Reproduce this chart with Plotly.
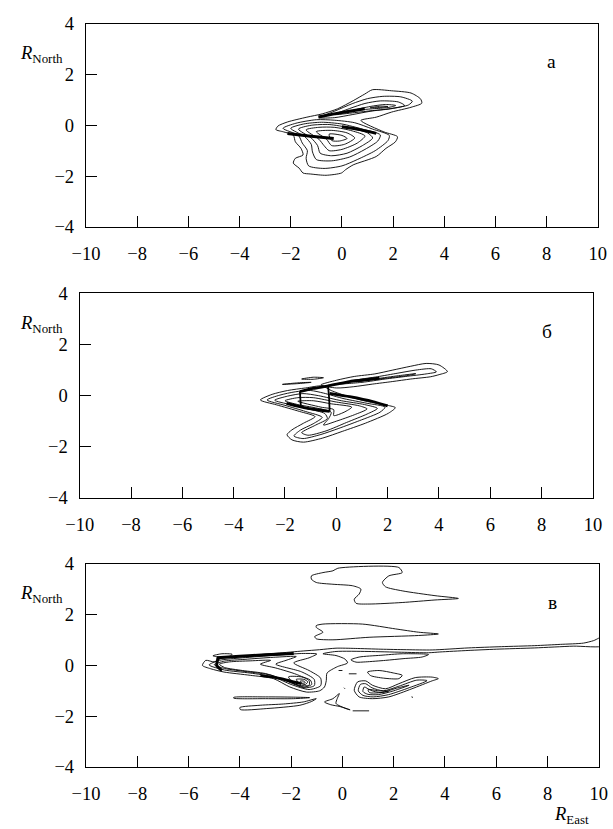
import plotly.graph_objects as go

# ---------------- panel а : contour lines (R_East, R_North) ----------------
A_OUTER = [(1.19, 1.40), (1.94, 1.36), (2.70, 1.27), (3.07, 1.04), (3.12, 0.87), (2.70, 0.71),
           (1.94, 0.52), (1.34, 0.32), (0.74, 0.19), (1.64, -0.26), (2.17, -0.45), (2.09, -0.65),
           (1.72, -0.91), (1.34, -1.23), (0.44, -1.56), (0.14, -1.75), (-0.02, -1.88), (-0.62, -1.97),
           (-1.22, -1.92), (-1.52, -1.88), (-1.67, -1.69), (-1.90, -1.49), (-1.82, -1.30), (-1.52, -1.17),
           (-1.60, -0.91), (-1.82, -0.65), (-1.90, -0.39), (-2.28, -0.26), (-2.58, -0.17), (-2.50, -0.03),
           (-2.13, 0.13), (-1.37, 0.32), (-0.77, 0.45), (-0.17, 0.65), (0.44, 0.97), (0.89, 1.23), (1.19, 1.40)]
A_UP1 = [(-0.9, 0.30), (-0.3, 0.55), (0.4, 0.85), (1.0, 1.05), (1.6, 1.14), (2.3, 1.12), (2.75, 0.95),
         (2.6, 0.80), (1.9, 0.66), (1.1, 0.55), (0.4, 0.42), (-0.3, 0.30), (-0.9, 0.30)]
A_UP2 = [(-0.3, 0.42), (0.3, 0.66), (0.9, 0.86), (1.5, 0.96), (2.2, 0.92), (2.45, 0.78), (1.85, 0.64),
         (1.2, 0.58), (0.5, 0.50), (-0.3, 0.42)]
A_UP3 = [(0.5, 0.60), (1.1, 0.74), (1.7, 0.82), (2.1, 0.78), (1.8, 0.70), (1.2, 0.65), (0.5, 0.60)]
A_UP4 = [(1.1, 0.69), (1.5, 0.75), (1.8, 0.74), (1.5, 0.70), (1.1, 0.69)]
A_LOW1 = [(-2.3, -0.12), (-1.8, 0.08), (-1.0, 0.22), (-0.3, 0.2), (0.5, 0.1), (1.2, -0.15), (1.85, -0.4),
          (1.8, -0.6), (1.3, -1.0), (0.6, -1.35), (0.0, -1.6), (-0.7, -1.7), (-1.3, -1.6), (-1.4, -1.3),
          (-1.35, -1.0), (-1.55, -0.7), (-1.7, -0.4), (-2.3, -0.12)]
A_LOW2 = [(-2.0, -0.12), (-1.5, 0.05), (-0.8, 0.12), (0.0, 0.05), (0.8, -0.15), (1.5, -0.38), (1.4, -0.62),
          (0.9, -0.95), (0.3, -1.25), (-0.4, -1.4), (-1.0, -1.35), (-1.15, -1.05), (-1.2, -0.75),
          (-1.45, -0.45), (-2.0, -0.12)]
A_LOW3 = [(-1.7, -0.15), (-1.2, 0.0), (-0.5, 0.03), (0.3, -0.1), (1.0, -0.3), (1.2, -0.5), (0.8, -0.8),
          (0.2, -1.1), (-0.4, -1.2), (-0.85, -1.1), (-0.95, -0.8), (-1.2, -0.5), (-1.7, -0.15)]
A_LOW4 = [(-1.4, -0.18), (-0.9, -0.08), (-0.3, -0.08), (0.4, -0.22), (0.9, -0.42), (0.6, -0.7),
          (0.0, -0.95), (-0.5, -1.0), (-0.7, -0.8), (-0.9, -0.55), (-1.4, -0.18)]
A_LOW5 = [(-1.0, -0.25), (-0.4, -0.2), (0.2, -0.3), (0.5, -0.5), (0.1, -0.75), (-0.4, -0.8),
          (-0.6, -0.55), (-1.0, -0.25)]
A_LOW6 = [(-0.5, -0.35), (0.0, -0.4), (0.2, -0.52), (-0.1, -0.62), (-0.4, -0.6), (-0.5, -0.35)]
# steep-gradient bands where the isolines merge
A_BAND1 = [(-0.92, 0.33), (-0.3, 0.45), (0.3, 0.55), (0.89, 0.65)]
A_BAND2 = [(-2.13, -0.32), (-1.3, -0.42), (-0.32, -0.52)]
A_BAND3 = [(0.0, -0.06), (0.7, -0.17), (1.34, -0.32)]

# ---------------- panel б ----------------
B_OUTER = [(-2.96, -0.17), (-2.5, 0.05), (-1.9, 0.2), (-1.2, 0.3), (-0.55, 0.38), (-0.2, 0.2), (0.5, -0.05),
           (1.3, -0.25), (2.0, -0.38), (2.30, -0.47), (2.03, -0.69), (1.13, -1.08), (0.23, -1.40),
           (-0.53, -1.66), (-1.28, -1.82), (-1.73, -1.73), (-1.92, -1.53), (-1.73, -1.34), (-1.28, -1.08),
           (-0.83, -0.82), (-1.43, -0.62), (-2.33, -0.36), (-2.96, -0.17)]
B_LOW1 = [(-2.7, -0.17), (-2.2, 0.02), (-1.6, 0.15), (-1.0, 0.2), (-0.5, 0.1), (0.3, -0.12), (1.2, -0.3),
          (1.9, -0.45), (1.7, -0.65), (0.9, -0.98), (0.1, -1.28), (-0.6, -1.52), (-1.3, -1.68),
          (-1.65, -1.58), (-1.4, -1.35), (-0.9, -1.1), (-0.55, -0.85), (-1.2, -0.62), (-2.0, -0.38),
          (-2.7, -0.17)]
B_LOW2 = [(-2.4, -0.18), (-1.9, -0.02), (-1.3, 0.08), (-0.7, 0.0), (0.2, -0.2), (1.1, -0.35), (1.6, -0.5),
          (1.2, -0.72), (0.4, -1.05), (-0.4, -1.38), (-1.1, -1.55), (-1.35, -1.45), (-0.8, -1.15),
          (-0.35, -0.9), (-0.45, -0.7), (-1.1, -0.52), (-1.8, -0.35), (-2.4, -0.18)]
B_LOW3 = [(-2.0, -0.2), (-1.5, -0.08), (-0.9, -0.08), (0.0, -0.25), (0.9, -0.4), (1.2, -0.52), (0.7, -0.75),
          (0.0, -1.0), (-0.5, -1.15), (-0.3, -0.9), (-0.2, -0.65), (-0.8, -0.48), (-1.5, -0.35), (-2.0, -0.2)]
B_LOW4 = [(-1.5, -0.22), (-0.9, -0.2), (-0.2, -0.32), (0.6, -0.45), (0.3, -0.65), (-0.1, -0.78),
          (-0.1, -0.55), (-0.6, -0.45), (-1.5, -0.22)]
B_UP0 = [(-0.6, 0.42), (0.0, 0.6), (0.7, 0.75), (1.5, 0.85), (2.2, 1.0), (2.9, 1.15), (3.5, 1.26),
         (4.0, 1.2), (4.33, 0.94), (4.0, 0.82), (3.68, 0.74), (2.9, 0.65), (2.18, 0.55), (1.4, 0.45),
         (0.68, 0.35), (0.0, 0.3), (-0.6, 0.42)]
B_UP1 = [(0.0, 0.45), (0.8, 0.62), (1.6, 0.74), (2.4, 0.88), (3.1, 1.0), (3.7, 1.05), (3.9, 0.93),
         (3.5, 0.85), (2.7, 0.75), (1.9, 0.65), (1.0, 0.52), (0.0, 0.45)]
B_UP2 = [(0.8, 0.55), (1.7, 0.68), (2.5, 0.79), (3.1, 0.86), (2.8, 0.79), (2.0, 0.69), (1.2, 0.6), (0.8, 0.55)]
B_SMALL1 = [(-2.1, 0.44), (-1.5, 0.5), (-0.98, 0.52), (-1.5, 0.47), (-2.1, 0.44)]
B_SMALL2 = [(-1.35, 0.65), (-0.9, 0.72), (-0.5, 0.7), (-0.9, 0.64), (-1.35, 0.65)]
B_BAND1 = [(-1.42, 0.16), (-0.9, 0.28), (-0.32, 0.38), (0.52, 0.55), (1.68, 0.68)]
B_BAND2 = [(-0.26, 0.09), (0.52, -0.04), (1.42, -0.23), (2.0, -0.40)]
B_BAND3 = [(-1.94, -0.30), (-1.16, -0.49), (-0.26, -0.62)]
B_BAND4 = [(-1.42, 0.16), (-1.40, -0.12), (-1.38, -0.43)]
B_BAND5 = [(-0.32, 0.36), (-0.28, -0.1), (-0.26, -0.62)]

# ---------------- panel в ----------------
C_TOP = [(-1.21, 3.53), (-0.76, 3.66), (-0.37, 3.73), (-0.18, 3.83), (2.2, 3.86), (2.33, 3.66), (1.81, 3.53),
         (1.56, 3.27), (1.68, 3.1), (2.33, 2.94), (3.61, 2.75), (4.52, 2.64), (3.61, 2.58), (2.33, 2.48),
         (1.04, 2.42), (0.53, 2.45), (0.46, 2.61), (0.65, 2.81), (0.72, 3.01), (0.40, 3.14), (-0.37, 3.20),
         (-1.02, 3.27), (-1.21, 3.40), (-1.21, 3.53)]
C_MID = [(-1.02, 1.57), (-0.76, 1.63), (0.78, 1.63), (2.07, 1.44), (2.97, 1.31), (3.74, 1.24), (2.97, 1.18),
         (1.04, 1.11), (-0.37, 1.01), (-1.02, 1.05), (-1.08, 1.14), (-0.76, 1.31), (-1.02, 1.50), (-1.02, 1.57)]
C_OUTER = [(-5.46, 0.0), (-5.33, 0.2), (-5.0, 0.14), (-4.75, 0.27), (-3.85, 0.37), (-2.56, 0.48), (-1.53, 0.57),
           (-0.89, 0.62), (-0.25, 0.68), (0.5, 0.67), (1.5, 0.64), (2.5, 0.62), (3.5, 0.61), (4.9, 0.69),
           (6.2, 0.74), (7.5, 0.78), (8.5, 0.83), (9.4, 0.88), (9.8, 0.98), (10.2, 1.15), (10.2, 0.78),
           (9.0, 0.76), (7.5, 0.69), (6.0, 0.64), (4.9, 0.59), (3.8, 0.53), (3.36, 0.50), (2.3, 0.52),
           (1.0, 0.55), (-0.25, 0.55), (-0.76, 0.46), (-0.25, 0.39), (0.1, 0.25), (0.2, 0.1), (-0.2, -0.05),
           (-0.6, -0.3), (-0.63, -0.6), (-0.7, -0.85), (-0.89, -1.0), (-1.4, -1.05), (-2.05, -0.85),
           (-2.69, -0.52), (-3.59, -0.39), (-4.62, -0.26), (-5.14, -0.13), (-5.46, 0.0)]
C_LOOP = [(0.33, 0.22), (0.65, 0.33), (1.5, 0.40), (2.33, 0.46), (3.36, 0.43), (3.1, 0.33), (2.4, 0.27),
          (1.68, 0.2), (0.9, 0.14), (0.53, 0.13), (0.33, 0.22)]
C_KNOB = [(-5.05, 0.38), (-4.7, 0.46), (-4.3, 0.44), (-4.4, 0.36), (-4.8, 0.33), (-5.05, 0.38)]
C_IN1 = [(-5.2, 0.02), (-4.8, 0.2), (-3.9, 0.3), (-2.6, 0.4), (-1.6, 0.47), (-1.0, 0.45), (-1.3, 0.3),
         (-1.9, 0.1), (-1.3, -0.2), (-0.85, -0.5), (-0.85, -0.8), (-1.3, -0.95), (-2.0, -0.75),
         (-2.7, -0.45), (-3.6, -0.3), (-4.6, -0.18), (-5.2, 0.02)]
C_IN2 = [(-5.0, 0.03), (-4.6, 0.17), (-3.8, 0.24), (-2.7, 0.32), (-1.8, 0.35), (-2.2, 0.2), (-2.6, 0.05),
         (-1.6, -0.25), (-1.1, -0.55), (-1.1, -0.8), (-1.5, -0.88), (-2.1, -0.65), (-2.8, -0.38),
         (-3.7, -0.25), (-4.6, -0.12), (-5.0, 0.03)]
C_IN3 = [(-4.8, 0.05), (-4.4, 0.14), (-3.6, 0.18), (-2.8, 0.2), (-3.2, 0.05), (-2.6, -0.1), (-1.8, -0.35),
         (-1.3, -0.6), (-1.3, -0.78), (-1.7, -0.78), (-2.3, -0.55), (-3.0, -0.32), (-3.9, -0.2),
         (-4.6, -0.08), (-4.8, 0.05)]
C_IN4 = [(-2.1, -0.45), (-1.6, -0.45), (-1.25, -0.58), (-1.2, -0.75), (-1.5, -0.85), (-1.9, -0.7), (-2.1, -0.45)]
C_IN5 = [(-1.8, -0.55), (-1.5, -0.55), (-1.35, -0.65), (-1.45, -0.75), (-1.7, -0.68), (-1.8, -0.55)]
C_IN6 = [(-1.65, -0.62), (-1.5, -0.62), (-1.45, -0.68), (-1.58, -0.7), (-1.65, -0.62)]
C_BAND1 = [(-4.9, 0.30), (-4.0, 0.36), (-3.0, 0.42), (-1.9, 0.47)]
C_BAND2 = [(-4.85, 0.30), (-4.9, 0.0), (-4.7, -0.2)]
C_BAND3 = [(-3.2, -0.40), (-2.5, -0.50), (-1.6, -0.72)]
C_HOOK0 = [(0.59, -0.65), (0.46, -0.98), (0.65, -1.24), (1.17, -1.31), (1.81, -1.24), (2.71, -0.92),
           (3.49, -0.61), (3.74, -0.52), (3.49, -0.46), (2.84, -0.48), (2.2, -0.72), (1.68, -0.92),
           (1.17, -0.78), (0.91, -0.61), (0.59, -0.65)]
C_HOOK1 = [(0.7, -0.75), (0.62, -1.0), (0.8, -1.18), (1.2, -1.24), (1.8, -1.15), (2.6, -0.88), (3.3, -0.6),
           (2.9, -0.58), (2.2, -0.82), (1.6, -1.0), (1.15, -0.88), (0.9, -0.72), (0.7, -0.75)]
C_HOOK2 = [(0.85, -0.85), (0.8, -1.03), (1.0, -1.14), (1.4, -1.15), (2.0, -1.0), (2.6, -0.78), (2.1, -0.9),
           (1.5, -1.07), (1.1, -0.98), (0.85, -0.85)]
C_HOOK3 = [(1.0, -0.95), (1.05, -1.07), (1.4, -1.08), (1.8, -1.02), (1.4, -1.0), (1.0, -0.95)]
C_BEAN = [(0.98, -0.26), (1.43, -0.20), (2.0, -0.30), (2.33, -0.39), (2.2, -0.52), (1.6, -0.50),
          (1.1, -0.40), (0.98, -0.26)]
C_BOT1 = [(-4.24, -1.26), (-3.0, -1.24), (-1.9, -1.25), (-1.28, -1.27), (-1.9, -1.31), (-3.0, -1.31),
          (-4.24, -1.29), (-4.24, -1.26)]
C_BOT2 = [(-4.0, -1.66), (-3.21, -1.57), (-2.3, -1.52), (-1.53, -1.44), (-1.02, -1.31), (-1.2, -1.42),
          (-1.66, -1.57), (-2.95, -1.70), (-3.98, -1.74), (-4.0, -1.66)]
C_TRI = [(-0.7, -1.44), (-0.37, -1.31), (-0.12, -1.11), (-0.2, -1.3), (-0.25, -1.5), (0.14, -1.7),
         (0.3, -1.75), (-0.1, -1.62), (-0.45, -1.55), (-0.7, -1.44)]
C_DASH1 = [(0.4, -1.79), (1.04, -1.79)]
C_DASH2 = [(0.25, -0.33), (0.55, -0.33)]
C_DASH3 = [(-0.15, -0.20), (0.0, -0.20)]
C_DOT1 = [(0.06, -0.88), (0.10, -0.92)]
C_DOT2 = [(2.71, -1.22), (2.73, -1.28)]

PANEL_LINES = [
    [A_OUTER, A_UP1, A_UP2, A_UP3, A_UP4, A_LOW1, A_LOW2, A_LOW3, A_LOW4, A_LOW5, A_LOW6],
    [B_OUTER, B_LOW1, B_LOW2, B_LOW3, B_LOW4, B_UP0, B_UP1, B_UP2, B_SMALL1, B_SMALL2],
    [C_TOP, C_MID, C_OUTER, C_LOOP, C_KNOB, C_IN1, C_IN2, C_IN3, C_IN4, C_IN5, C_IN6,
     C_HOOK0, C_HOOK1, C_HOOK2, C_HOOK3, C_BEAN, C_BOT1, C_BOT2, C_TRI,
     C_DASH1, C_DASH2, C_DASH3, C_DOT1, C_DOT2],
]
PANEL_BANDS = [
    [(A_BAND1, 3.0), (A_BAND2, 3.0), (A_BAND3, 3.0)],
    [(B_BAND1, 2.8), (B_BAND2, 2.8), (B_BAND3, 2.8), (B_BAND4, 1.8), (B_BAND5, 1.8)],
    [(C_BAND1, 3.0), (C_BAND2, 3.0), (C_BAND3, 2.6)],
]
PANEL_TAGS = ["а", "б", "в"]
X_TICKS = [-10, -8, -6, -4, -2, 0, 2, 4, 6, 8, 10]
Y_TICKS = [-4, -2, 0, 2, 4]

# Plot boxes (left, right, top, bottom) measured on a 613 x 829 sheet.  The page that holds
# the figure is 629 x 848 (figure plus the default 8 px body margin), so sheet positions are
# stretched onto the page and then shifted by the margin.
SHEET_W, SHEET_H = 613, 829
PAGE_W, PAGE_H, BODY = 629, 848, 8
W, H = PAGE_W - 2 * BODY, PAGE_H - 2 * BODY
KX, KY = PAGE_W / SHEET_W, PAGE_H / SHEET_H
BOXES = [(80.7, 599.0, 21.6, 225.0), (74.3, 594.0, 291.7, 496.5), (80.7, 600.0, 562.7, 766.0)]


def fx(px):
    return (px * KX - BODY) / W


def fy(py):
    return 1 - (py * KY - BODY) / H


SERIF = "Liberation Serif"
TICK_SIZE = 18.5
LABEL_SIZE = 18.5

fig = go.Figure()
for i in range(3):
    sfx = "" if i == 0 else str(i + 1)
    for line in PANEL_LINES[i]:
        fig.add_trace(go.Scatter(x=[p[0] for p in line], y=[p[1] for p in line], mode="lines",
                                 line=dict(color="black", width=0.9, shape="spline", smoothing=0.7),
                                 xaxis="x" + sfx, yaxis="y" + sfx, hoverinfo="skip"))
    for band, bw in PANEL_BANDS[i]:
        fig.add_trace(go.Scatter(x=[p[0] for p in band], y=[p[1] for p in band], mode="lines",
                                 line=dict(color="black", width=bw, shape="spline", smoothing=0.5),
                                 xaxis="x" + sfx, yaxis="y" + sfx, hoverinfo="skip"))

layout = dict(width=W, height=H, margin=dict(l=0, r=0, t=0, b=0), paper_bgcolor="white",
              plot_bgcolor="white", showlegend=False, annotations=[])
for i, (l, r, t, b) in enumerate(BOXES):
    sfx = "" if i == 0 else str(i + 1)
    common = dict(showline=True, linecolor="black", linewidth=1.4, mirror=True, showgrid=False,
                  zeroline=False, ticks="inside", ticklen=11, tickwidth=1.3, tickcolor="black",
                  tickfont=dict(family=SERIF, size=TICK_SIZE, color="black"))
    layout["xaxis" + sfx] = dict(common, range=[-10, 10], tickvals=X_TICKS, domain=[fx(l), fx(r)],
                                 anchor="y" + sfx, ticklabelstandoff=10)
    layout["yaxis" + sfx] = dict(common, range=[-4, 4], tickvals=Y_TICKS, domain=[fy(b), fy(t)],
                                 anchor="x" + sfx, ticklabelstandoff=7)
    layout["annotations"].append(dict(text=PANEL_TAGS[i], x=8.2, y=2.5, xref="x" + sfx, yref="y" + sfx,
                                      xanchor="center", yanchor="middle", showarrow=False,
                                      font=dict(family=SERIF, size=19.5, color="black")))
    layout["annotations"].append(dict(text="<i>R</i><sub>North</sub>", x=fx(35.5), y=fy(t + 31),
                                      xref="paper", yref="paper", xanchor="center", yanchor="middle",
                                      showarrow=False, font=dict(family=SERIF, size=LABEL_SIZE, color="black")))
layout["annotations"].append(dict(text="<i>R</i><sub>East</sub>", x=fx(572), y=fy(815),
                                  xref="paper", yref="paper", xanchor="center", yanchor="middle",
                                  showarrow=False, font=dict(family=SERIF, size=LABEL_SIZE, color="black")))
fig.update_layout(**layout)
fig.write_html("out.html")
